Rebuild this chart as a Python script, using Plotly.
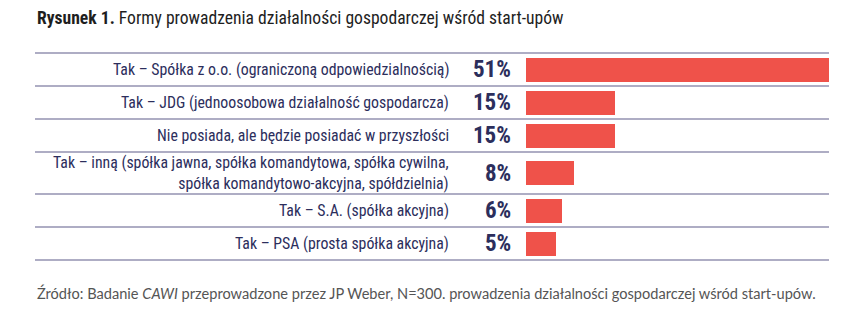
import plotly.graph_objects as go

# Survey results: legal forms of start-ups
categories = [
    "Tak – Spółka z o.o. (ograniczoną odpowiedzialnością)",
    "Tak – JDG (jednoosobowa działalność gospodarcza)",
    "Nie posiada, ale będzie posiadać w przyszłości",
    "Tak – inną (spółka jawna, spółka komandytowa, spółka cywilna,<br>spółka komandytowo-akcyjna, spółdzielnia)",
    "Tak – S.A. (spółka akcyjna)",
    "Tak – PSA (prosta spółka akcyjna)",
]
values = [51, 15, 15, 8, 6, 5]

title_bold = "Rysunek 1."
title_rest = "Formy prowadzenia działalności gospodarczej wśród start-upów"
source = ("Źródło: Badanie <i>CAWI</i> przeprowadzone przez JP Weber, N=300. "
          "prowadzenia działalności gospodarczej wśród start-upów.")

W, H = 854, 327
FONT = "Roboto Condensed, Roboto, sans-serif"
NAVY = "#2c2e5c"
RED = "#ef524a"
RULE = "#aeadc4"

# Row geometry in pixel units (y axis runs top-down in pixels)
top = 53
base_row = 33
extra_line = 9
bar_h = 24

bounds = [top]
centers = []
for cat in categories:
    n_lines = cat.count("<br>") + 1
    h = base_row + extra_line * (n_lines - 1)
    centers.append(bounds[-1] + h / 2)
    bounds.append(bounds[-1] + h)

x0_px, x1_px = 526, 829
line_left = 35

fig = go.Figure()
fig.add_trace(go.Bar(
    x=values, y=centers, orientation="h", width=bar_h,
    marker=dict(color=RED, line=dict(width=0)),
    hoverinfo="skip",
))

shapes = []
for b in bounds:
    shapes.append(dict(type="line", xref="paper", yref="y",
                       x0=line_left / W, x1=x1_px / W, y0=b, y1=b,
                       line=dict(color=RULE, width=2)))

annotations = []
for cat, v, c in zip(categories, values, centers):
    annotations.append(dict(
        x=451 / W, y=c, xref="paper", yref="y", text=cat,
        showarrow=False, xanchor="right", yanchor="middle", align="right",
        font=dict(family=FONT, size=15.8, color=NAVY),
    ))
    annotations.append(dict(
        x=513 / W, y=c, xref="paper", yref="y", text=f"<b>{v}%</b>",
        showarrow=False, xanchor="right", yanchor="middle",
        font=dict(family=FONT, size=23, color=NAVY, weight=900),
    ))

annotations.append(dict(
    x=line_left / W, y=18, xref="paper", yref="y",
    text=f"<b>{title_bold}</b> {title_rest}",
    showarrow=False, xanchor="left", yanchor="middle",
    font=dict(family=FONT, size=17.6, color="#1e1e1e"),
))
annotations.append(dict(
    x=line_left / W, y=293, xref="paper", yref="y", text=source,
    showarrow=False, xanchor="left", yanchor="middle",
    font=dict(family="Lato, sans-serif", size=14.6, color="#555555"),
))

fig.update_layout(
    width=W, height=H,
    margin=dict(l=0, r=0, t=0, b=0),
    paper_bgcolor="white", plot_bgcolor="rgba(0,0,0,0)",
    showlegend=False,
    bargap=0,
    xaxis=dict(domain=[x0_px / W, x1_px / W], range=[0, max(values)],
               visible=False, fixedrange=True),
    yaxis=dict(domain=[0, 1], range=[H, 0], visible=False, fixedrange=True),
    shapes=shapes,
    annotations=annotations,
)

fig.write_html("out.html")
